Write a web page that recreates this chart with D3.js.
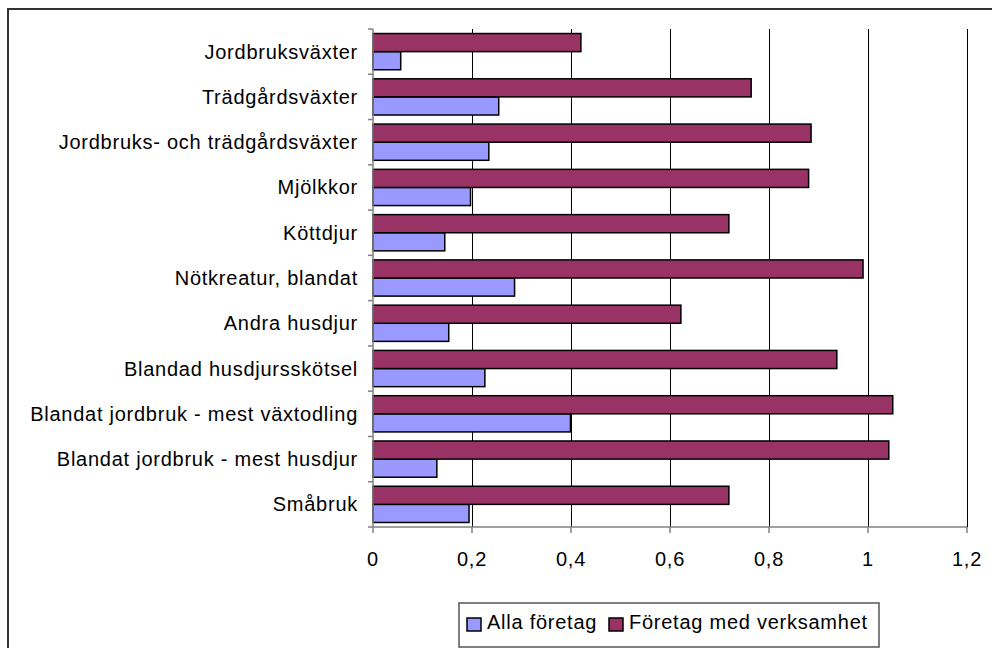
<!DOCTYPE html>
<html>
<head>
<meta charset="utf-8">
<script src="https://cdn.jsdelivr.net/npm/d3@7"></script>
<style>
  body { margin: 0; background: #fff; }
  svg { display: block; font-family: 'Liberation Sans', Arial, sans-serif; }
  text { letter-spacing: 0.75px; }
</style>
</head>
<body>
<div id="chart"></div>
<script>
// categories top to bottom
const categories = [
  'Jordbruksväxter',
  'Trädgårdsväxter',
  'Jordbruks- och trädgårdsväxter',
  'Mjölkkor',
  'Köttdjur',
  'Nötkreatur, blandat',
  'Andra husdjur',
  'Blandad husdjursskötsel',
  'Blandat jordbruk - mest växtodling',
  'Blandat jordbruk - mest husdjur',
  'Småbruk'
];
const allaForetag = [0.056, 0.254, 0.234, 0.197, 0.145, 0.286, 0.153, 0.226, 0.399, 0.129, 0.194];
const foretagMedVerksamhet = [0.42, 0.764, 0.885, 0.88, 0.719, 0.99, 0.622, 0.937, 1.05, 1.042, 0.719];
const xTicks = [0, 0.2, 0.4, 0.6, 0.8, 1, 1.2];
const seriesNames = ['Alla företag', 'Företag med verksamhet'];
const seriesColors = ['#9999ff', '#993366'];

const width = 992, height = 648;
const margin = { top: 29, right: 25, bottom: 121, left: 373 };
const plotW = width - margin.left - margin.right;
const plotH = height - margin.top - margin.bottom;

const svg = d3.select('#chart')
  .append('svg')
  .attr('width', width)
  .attr('height', height);

// outer chart frame
svg.append('rect')
  .attr('x', 8).attr('y', 9)
  .attr('width', 1000).attr('height', 700)
  .attr('fill', 'none')
  .attr('stroke', '#333')
  .attr('stroke-width', 2);

const g = svg.append('g')
  .attr('transform', `translate(${margin.left}, ${margin.top})`);

const x = d3.scaleLinear().domain([0, 1.2]).range([0, plotW]);
const y = d3.scaleBand().domain(categories).range([0, plotH]).paddingInner(0.2).paddingOuter(0.1);
const ySub = d3.scaleBand().domain([1, 0]).range([0, y.bandwidth()]);

// vertical gridlines
g.selectAll('.grid')
  .data(xTicks.slice(1))
  .enter()
  .append('line')
  .attr('x1', d => Math.round(x(d)) + 0.5).attr('x2', d => Math.round(x(d)) + 0.5)
  .attr('y1', 0).attr('y2', plotH)
  .attr('stroke', '#000')
  .attr('stroke-width', 1);

// bars
const seriesData = [allaForetag, foretagMedVerksamhet];
seriesData.forEach((vals, si) => {
  g.selectAll('.bar-' + si)
    .data(vals)
    .enter()
    .append('rect')
    .attr('x', 0)
    .attr('y', (d, i) => y(categories[i]) + ySub(si))
    .attr('width', d => x(d))
    .attr('height', ySub.bandwidth())
    .attr('fill', seriesColors[si])
    .attr('stroke', '#000')
    .attr('stroke-width', 1.5);
});

// y axis
const step = plotH / categories.length;
const yAxis = g.append('g');
yAxis.append('line')
  .attr('x1', 0).attr('x2', 0).attr('y1', 0).attr('y2', plotH)
  .attr('stroke', '#808080').attr('stroke-width', 1.5);
yAxis.selectAll('.ytick')
  .data(d3.range(categories.length + 1))
  .enter()
  .append('line')
  .attr('x1', -5).attr('x2', 0)
  .attr('y1', d => d * step).attr('y2', d => d * step)
  .attr('stroke', '#808080').attr('stroke-width', 1.5);
yAxis.selectAll('.ylabel')
  .data(categories)
  .enter()
  .append('text')
  .attr('x', -15)
  .attr('y', d => y(d) + y.bandwidth() / 2)
  .attr('dy', '0.35em')
  .attr('text-anchor', 'end')
  .attr('font-size', '20px')
  .attr('fill', '#000')
  .text(d => d);

// x axis
const xAxis = g.append('g').attr('transform', `translate(0, ${plotH})`);
xAxis.append('line')
  .attr('x1', 0).attr('x2', plotW)
  .attr('stroke', '#808080').attr('stroke-width', 1.5);
xAxis.selectAll('.xtick')
  .data(xTicks)
  .enter()
  .append('line')
  .attr('x1', d => x(d)).attr('x2', d => x(d))
  .attr('y1', 0).attr('y2', 6)
  .attr('stroke', '#808080').attr('stroke-width', 1.5);
xAxis.selectAll('.xlabel')
  .data(xTicks)
  .enter()
  .append('text')
  .attr('x', d => x(d))
  .attr('y', 39)
  .attr('text-anchor', 'middle')
  .attr('font-size', '20px')
  .attr('fill', '#000')
  .text(d => String(d).replace('.', ','));

// legend
const legend = svg.append('g').attr('transform', 'translate(459, 603)');
legend.append('rect')
  .attr('width', 420).attr('height', 44)
  .attr('fill', '#fff')
  .attr('stroke', '#555')
  .attr('stroke-width', 1.5);
const legendX = [8, 150];
seriesNames.forEach((name, i) => {
  legend.append('rect')
    .attr('x', legendX[i]).attr('y', 15)
    .attr('width', 14).attr('height', 13)
    .attr('fill', seriesColors[i])
    .attr('stroke', '#000')
    .attr('stroke-width', 1.5);
  legend.append('text')
    .attr('x', legendX[i] + 20).attr('y', 26)
    .attr('font-size', '20px')
    .attr('fill', '#000')
    .text(name);
});
</script>
</body>
</html>
